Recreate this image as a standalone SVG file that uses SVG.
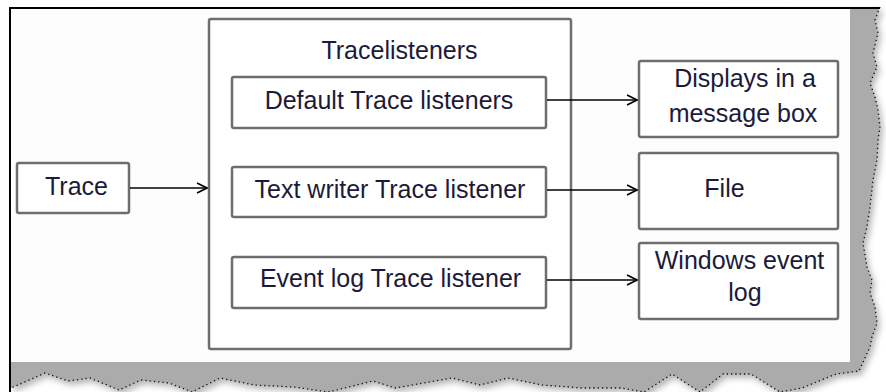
<svg xmlns="http://www.w3.org/2000/svg" width="886" height="392" viewBox="0 0 886 392">
  <style>
    .box { fill: #ffffff; stroke: #6e6e6e; stroke-width: 2.5; }
    .lbl { font-family: "Liberation Sans", Arial, sans-serif; font-size: 25px; fill: #1c1a3a; text-anchor: middle; }
    .conn { stroke: #000000; stroke-width: 1.6; fill: none; marker-end: url(#arr); }
  </style>
  <defs>
    <marker id="arr" viewBox="0 0 12 12" refX="11" refY="6" markerWidth="12" markerHeight="12" markerUnits="userSpaceOnUse" orient="auto">
      <path d="M1,1 L11,6 L1,11" fill="none" stroke="#000" stroke-width="1.6"/>
    </marker>
    <filter id="blur" x="-5%" y="-5%" width="110%" height="110%">
      <feGaussianBlur stdDeviation="3"/>
    </filter>
  </defs>
  <rect x="0" y="0" width="886" height="392" fill="#ffffff"/>
  <g id="torn-edge">
    <path id="tornShape" d="M11,9 L880,7 L875,20 L878,33 L873,53 L877,67 L870,83 L875,97 L878,110 L880,127 L878,140 L877,160 L873,180 L870,207 L867,227 L863,243 L867,267 L872,280 L870,293 L875,307 L877,323 L872,337 L870,347 L859,371 L836,374 L802,388 L780,392 L751,374 L723,374 L700,392 L672,374 L644,392 L621,388 L582,388 L542,385 L508,378 L480,385 L452,378 L424,383 L395,388 L373,381 L328,392 L294,387 L254,385 L220,378 L192,392 L169,383 L141,380 L119,390 L90,378 L68,381 L45,373 L11,388 Z" fill="#7a7a7a" opacity="0.55" filter="url(#blur)" transform="translate(3,4)"/>
    <path d="M11,9 L880,7 L875,20 L878,33 L873,53 L877,67 L870,83 L875,97 L878,110 L880,127 L878,140 L877,160 L873,180 L870,207 L867,227 L863,243 L867,267 L872,280 L870,293 L875,307 L877,323 L872,337 L870,347 L859,371 L836,374 L802,388 L780,392 L751,374 L723,374 L700,392 L672,374 L644,392 L621,388 L582,388 L542,385 L508,378 L480,385 L452,378 L424,383 L395,388 L373,381 L328,392 L294,387 L254,385 L220,378 L192,392 L169,383 L141,380 L119,390 L90,378 L68,381 L45,373 L11,388 Z" fill="#ababab"/>
    <path d="M880,7 L875,20 L878,33 L873,53 L877,67 L870,83 L875,97 L878,110 L880,127 L878,140 L877,160 L873,180 L870,207 L867,227 L863,243 L867,267 L872,280 L870,293 L875,307 L877,323 L872,337 L870,347 L859,371 L836,374 L802,388 L780,392 L751,374 L723,374 L700,392 L672,374 L644,392 L621,388 L582,388 L542,385 L508,378 L480,385 L452,378 L424,383 L395,388 L373,381 L328,392 L294,387 L254,385 L220,378 L192,392 L169,383 L141,380 L119,390 L90,378 L68,381 L45,373 L11,388" fill="none" stroke="#111" stroke-width="1.3" stroke-dasharray="1.3 3"/>
    <rect x="11" y="9" width="839" height="353" fill="#fdfdfd"/>
    <path d="M10,392 L10,8 L880,8" fill="none" stroke="#000" stroke-width="2"/>
  </g>

  <g id="container">
    <rect class="box" x="209" y="19" width="362" height="330" rx="2"/>
    <text class="lbl" x="399.5" y="59">Tracelisteners</text>
  </g>

  <g id="trace">
    <rect class="box" x="17" y="163" width="112" height="50" rx="2"/>
    <text class="lbl" x="76.5" y="195">Trace</text>
  </g>

  <g id="default-listener">
    <rect class="box" x="232" y="77" width="314" height="51" rx="2"/>
    <text class="lbl" x="389" y="109">Default Trace listeners</text>
  </g>

  <g id="textwriter-listener">
    <rect class="box" x="232" y="167" width="314" height="50" rx="2"/>
    <text class="lbl" x="390" y="198">Text writer Trace listener</text>
  </g>

  <g id="eventlog-listener">
    <rect class="box" x="232" y="257" width="314" height="51" rx="2"/>
    <text class="lbl" x="390.5" y="287">Event log Trace listener</text>
  </g>

  <g id="messagebox">
    <rect class="box" x="639" y="61" width="199" height="76" rx="2"/>
    <text class="lbl" x="745" y="87">Displays in a</text>
    <text class="lbl" x="743" y="122">message box</text>
  </g>

  <g id="file">
    <rect class="box" x="639" y="153" width="199" height="76" rx="2"/>
    <text class="lbl" x="724.5" y="197">File</text>
  </g>

  <g id="windows-eventlog">
    <rect class="box" x="639" y="243" width="199" height="76" rx="2"/>
    <text class="lbl" x="739.5" y="269">Windows event</text>
    <text class="lbl" x="745" y="301">log</text>
  </g>

  <g id="connectors">
    <line class="conn" x1="130" y1="188" x2="207" y2="188"/>
    <line class="conn" x1="547" y1="100" x2="637" y2="100"/>
    <line class="conn" x1="547" y1="190" x2="637" y2="190"/>
    <line class="conn" x1="547" y1="280" x2="637" y2="280"/>
  </g>
</svg>
